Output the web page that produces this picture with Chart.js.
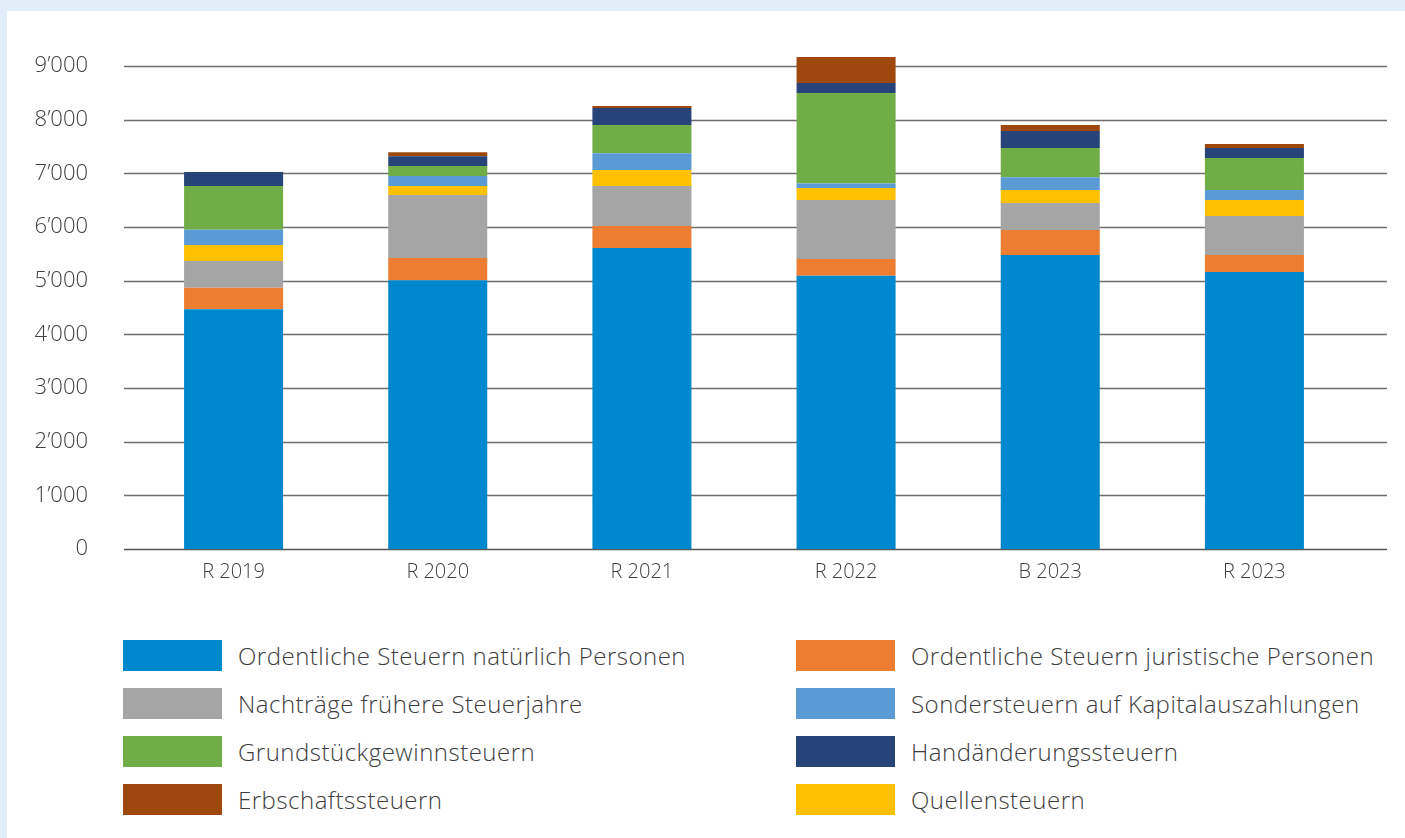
<!DOCTYPE html>
<html>
<head>
<meta charset="utf-8">
<script src="https://cdn.jsdelivr.net/npm/chart.js@4.4.1/dist/chart.umd.min.js"></script>
<style>
html, body {
    margin:0;
    padding:0;
    width:1405px;
    height:838px;
    overflow:hidden;
    background:#e1edf8;
    font-family:"Open Sans", sans-serif;
}
#panel {
    position:absolute;
    left:7px;
    top:11px;
    right:0;
    bottom:0;
    background:#ffffff;
}
#wrap {
    position:absolute;
    left:0;
    top:0;
    width:1405px;
    height:610px;
}
.leg {
    position:absolute;
    height:31px;
    line-height:31px;
    font-size:24px;
    letter-spacing:0.5px;
    font-weight:300;
    color:#3d3d3d;
    white-space:nowrap;
}
.leg span {
    position:absolute;
    left:0;
    top:0;
    width:99px;
    height:31px;
}
.leg b {
    position:absolute;
    left:115px;
    top:0;
    font-weight:300;
}
</style>
</head>
<body>
<div id="panel"></div>
<div id="wrap"><canvas id="taxChart" width="1405" height="610"></canvas></div>
<div id="legend"></div>
<script>

// Steuerertraege in Mio. CHF, gelesen aus der Grafik

const categories = [
    "R 2019", "R 2020", "R 2021", "R 2022", "B 2023", "R 2023"
]

const natuerlichePersonen = [4470, 5010, 5610, 5090, 5480, 5160]
const juristischePersonen = [400, 415, 410, 315, 465, 317]
const nachtraege = [495, 1170, 745, 1100, 503, 727]
const quellensteuern = [300, 170, 298, 223, 242, 298]
const sondersteuern = [285, 185, 311, 81, 237, 186]
const grundstueck = [815, 185, 527, 1690, 546, 597]
const handaenderung = [260, 185, 317, 187, 316, 186]
const erbschaft = [0, 75, 37, 484, 112, 74]

const yTicks = [0, 1000, 2000, 3000, 4000, 5000, 6000, 7000, 8000, 9000]

// stapel von unten nach oben
const series = [
    { label:"Ordentliche Steuern natürlich Personen", data:natuerlichePersonen, color:"#0088cf" },
    { label:"Ordentliche Steuern juristische Personen", data:juristischePersonen, color:"#ed7d31" },
    { label:"Nachträge frühere Steuerjahre", data:nachtraege, color:"#a5a5a5" },
    { label:"Quellensteuern", data:quellensteuern, color:"#ffc000" },
    { label:"Sondersteuern auf Kapitalauszahlungen", data:sondersteuern, color:"#5b9bd5" },
    { label:"Grundstückgewinnsteuern", data:grundstueck, color:"#70ad47" },
    { label:"Handänderungssteuern", data:handaenderung, color:"#264478" },
    { label:"Erbschaftssteuern", data:erbschaft, color:"#9e480e" }
]

// legende: linke spalte, rechte spalte
const legendLeft = [0, 2, 5, 7]
const legendRight = [1, 4, 6, 3]

function fmt(v){
    return String(v).replace(/\B(?=(\d{3})+(?!\d))/g, "\u2019")
}

const gridPlugin = {
    id:"hgrid",
    beforeDatasetsDraw(chart){
        const ctx = chart.ctx
        const y = chart.scales.y
        ctx.save()
        yTicks.forEach(v => {
            const py = Math.round(y.getPixelForValue(v)) + 0.5
            ctx.beginPath()
            ctx.strokeStyle = v === 0 ? "#555555" : "#6e6e6e"
            ctx.lineWidth = v === 0 ? 1.4 : 1.3
            ctx.moveTo(124, py)
            ctx.lineTo(1387, py)
            ctx.stroke()
        })
        ctx.restore()
    }
}

new Chart(
    document.getElementById("taxChart"),
    {
        type:"bar",
        data:{
            labels:categories,
            datasets:series.map(s => ({
                label:s.label,
                data:s.data,
                backgroundColor:s.color,
                borderWidth:0,
                categoryPercentage:1,
                barPercentage:0.485
            }))
        },
        options:{
            responsive:false,
            animation:false,
            layout:{
                padding:{ left:0, right:48.5, top:39.2, bottom:0 }
            },
            plugins:{
                legend:{ display:false },
                tooltip:{ enabled:false }
            },
            scales:{
                x:{
                    stacked:true,
                    grid:{ display:false, drawTicks:false },
                    border:{ display:false },
                    ticks:{
                        color:"#404040",
                        font:{ family:"Open Sans", size:20, weight:300 },
                        padding:11
                    },
                    afterFit(s){
                        s.height = 61
                        s.paddingLeft = 0
                        s.paddingRight = 0
                    }
                },
                y:{
                    stacked:true,
                    min:0,
                    max:9500,
                    grid:{ display:false, drawTicks:false },
                    border:{ display:false },
                    afterBuildTicks(s){
                        s.ticks = yTicks.map(v => ({ value:v }))
                    },
                    ticks:{
                        color:"#404040",
                        font:{ family:"Open Sans", size:22, weight:300 },
                        padding:43.5,
                        callback:v => fmt(v)
                    },
                    afterFit(s){
                        s.width = 131.5
                        s.paddingTop = 0
                        s.paddingBottom = 0
                    }
                }
            }
        },
        plugins:[gridPlugin]
    }
)

function addLegend(idx, col){
    const box = document.getElementById("legend")
    idx.forEach((k, row) => {
        const el = document.createElement("div")
        el.className = "leg"
        el.style.left = (col === 0 ? 123 : 796) + "px"
        el.style.top = (640 + row * 48) + "px"
        el.innerHTML = '<span style="background:' + series[k].color + '"></span><b>' + series[k].label + '</b>'
        box.appendChild(el)
    })
}

addLegend(legendLeft, 0)
addLegend(legendRight, 1)

</script>
</body>
</html>
